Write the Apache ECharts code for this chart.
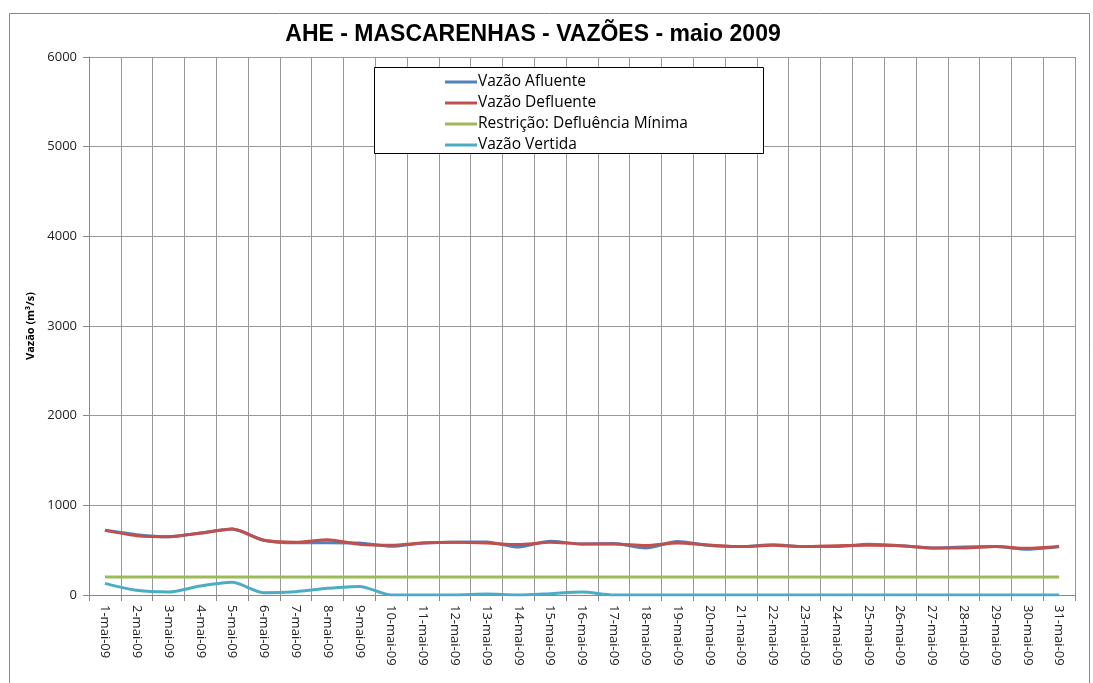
<!DOCTYPE html>
<html>
<head>
<meta charset="utf-8">
<script src="https://cdn.jsdelivr.net/npm/echarts@6/dist/echarts.min.js"></script>
<style>
  html, body {margin:0; padding:0; background:#fff;}
  #chart {width:1093px; height:683px;}
</style>
</head>
<body>
<div id="chart"></div>
<script>
// dias de maio 2009
const dias = []
for (let d = 1; d <= 31; d++) dias.push(d + '-mai-09')

const vazaoAfluente = [721, 673, 650, 691, 735, 610, 582, 584, 580, 543, 580, 588, 592, 536, 599, 569, 573, 525, 596, 551,
  540, 560, 540, 540, 565, 550, 525, 535, 540, 510, 540]
const vazaoDefluente = [721, 662, 651, 691, 735, 610, 588, 617, 566, 555, 580, 588, 580, 562, 588, 569, 569, 551, 580, 558,
  540, 555, 540, 550, 555, 550, 525, 525, 540, 520, 540]
const defluenciaMinima = [200, 200, 200, 200, 200, 200, 200, 200, 200, 200, 200, 200, 200, 200, 200, 200, 200, 200, 200, 200,
  200, 200, 200, 200, 200, 200, 200, 200, 200, 200, 200]
const vazaoVertida = [130, 52, 33, 100, 141, 26, 37, 74, 96, 0, 0, 0, 10, 0, 15, 33, 0, 0, 0, 0,
  0, 0, 0, 0, 0, 0, 0, 0, 0, 0, 0]

const fonte = '"Liberation Sans", sans-serif'
const fonteTxt = '"Open Sans", "DejaVu Sans", sans-serif'

const chart = echarts.init(document.getElementById('chart'))

const linha = (nome, dados, cor) => ({
  name: nome,
  type: 'line',
  data: dados,
  smooth: 0.25,
  symbol: 'none',
  lineStyle: {color: cor, width: 3},
  itemStyle: {color: cor}
})

chart.setOption({
  animation: false,
  title: {
    text: 'AHE - MASCARENHAS - VAZÕES - maio 2009',
    left: 528,
    textAlign: 'center',
    top: 18,
    textStyle: {fontFamily: fonte, fontSize: 23, fontWeight: 'bold', color: '#000'}
  },
  graphic: [
    {type: 'rect', left: 7, top: 11, shape: {width: 1080, height: 700},
      style: {fill: 'none', stroke: '#888', lineWidth: 1}, z: -1},
    {type: 'rect', left: 374, top: 67, shape: {width: 389, height: 86},
      style: {fill: '#fff', stroke: '#000', lineWidth: 1}, z: 50}
  ],
  legend: {
    orient: 'vertical',
    left: 440,
    top: 69,
    z: 60,
    itemGap: 5,
    itemWidth: 32,
    itemHeight: 3,
    icon: 'rect',
    textStyle: {fontFamily: fonteTxt, fontSize: 15.5, lineHeight: 16, color: '#000', padding: [0, 0, 0, -4]},
    data: ['Vazão Afluente', 'Vazão Defluente', 'Restrição: Defluência Mínima', 'Vazão Vertida']
  },
  grid: {left: 89, right: 18, top: 57, bottom: 88, containLabel: false},
  xAxis: {
    type: 'category',
    data: dias,
    boundaryGap: true,
    axisLine: {lineStyle: {color: '#888'}},
    axisTick: {show: true, length: 6, lineStyle: {color: '#888'}},
    splitLine: {show: true, lineStyle: {color: '#999', width: 1}},
    axisLabel: {rotate: -90, interval: 0, margin: 10, fontFamily: fonteTxt, fontSize: 13, color: '#222'}
  },
  yAxis: {
    type: 'value',
    min: 0,
    max: 6000,
    interval: 1000,
    name: 'Vazão (m³/s)',
    nameLocation: 'middle',
    nameGap: 45,
    nameTextStyle: {fontFamily: fonteTxt, fontSize: 11, fontWeight: 'bold', color: '#000'},
    axisLine: {show: true, lineStyle: {color: '#888'}},
    axisTick: {show: true, length: 6, lineStyle: {color: '#888'}},
    splitLine: {show: true, lineStyle: {color: '#999', width: 1}},
    axisLabel: {fontFamily: fonteTxt, fontSize: 13, color: '#222', margin: 12, formatter: v => String(v)}
  },
  series: [
    linha('Vazão Afluente', vazaoAfluente, '#4F81BD'),
    linha('Vazão Defluente', vazaoDefluente, '#C0504D'),
    linha('Restrição: Defluência Mínima', defluenciaMinima, '#9BBB59'),
    linha('Vazão Vertida', vazaoVertida, '#4BACC6')
  ]
})
</script>
</body>
</html>
